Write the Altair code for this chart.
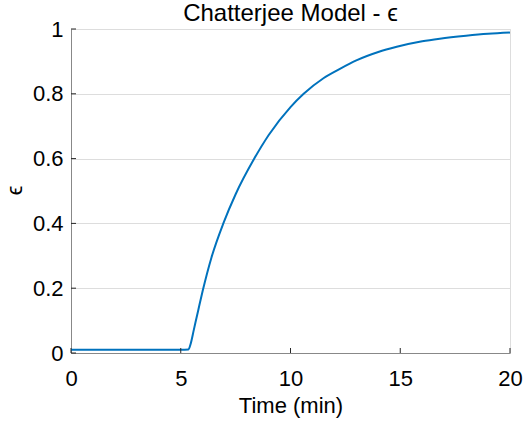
import altair as alt
import pandas as pd

time_min = [0, 2.5, 5.0, 5.35, 5.45, 5.6, 5.8, 6.0, 6.4, 6.94, 7.5, 8.35, 9.0, 10.0,
            10.6, 11.5, 12.25, 12.7, 13.0, 14.0, 14.84, 16.0, 16.8, 18.0, 19.0, 20.0]
epsilon = [0.01, 0.01, 0.01, 0.011, 0.028, 0.073, 0.133, 0.192, 0.295, 0.40, 0.49, 0.60,
           0.672, 0.759, 0.80, 0.848, 0.877, 0.893, 0.903, 0.929, 0.945, 0.962, 0.970,
           0.979, 0.985, 0.989]
x_ticks = [0, 5, 10, 15, 20]
y_ticks = [0, 0.2, 0.4, 0.6, 0.8, 1.0]

W, H = 439, 324
FONT = "Liberation Sans"
TXT = "#262626"

df = pd.DataFrame({"t": time_min, "e": epsilon})
xt = pd.DataFrame({"t": x_ticks})
yt = pd.DataFrame({"e": y_ticks})

xscale = alt.Scale(domain=[0, 20], nice=False, zero=False)
yscale = alt.Scale(domain=[0, 1], nice=False, zero=False)

xaxis = alt.Axis(values=x_ticks, title="Time (min)", grid=False, tickSize=0,
                 labelPadding=15, labelFontSize=22, titleFontSize=22,
                 titleFontWeight="normal", titleBaseline="alphabetic",
                 titleY=59, labelFlush=False, format="~g")
yaxis = alt.Axis(values=y_ticks, title="ϵ", grid=True, tickSize=0,
                 labelPadding=8, labelFontSize=22, titleFontSize=22,
                 titleFontWeight="normal", titleBaseline="alphabetic",
                 titleX=-50, titleY=161, labelFlush=False, format="~g")

line = alt.Chart(df).mark_line(color="#0072BD", strokeWidth=2, interpolate="monotone").encode(
    x=alt.X("t:Q", scale=xscale, axis=xaxis),
    y=alt.Y("e:Q", scale=yscale, axis=yaxis),
)

xtick_rules = alt.Chart(xt).mark_rule(color=TXT, strokeWidth=1).encode(
    x=alt.X("t:Q", scale=xscale, axis=xaxis),
    y=alt.value(H),
    y2=alt.value(H - 5),
)
ytick_rules = alt.Chart(yt).mark_rule(color=TXT, strokeWidth=1).encode(
    y=alt.Y("e:Q", scale=yscale, axis=yaxis),
    x=alt.value(0),
    x2=alt.value(5),
)

chart = alt.layer(line, xtick_rules, ytick_rules).properties(
    width=W, height=H,
    autosize=alt.AutoSizeParams(type="none"),
    padding={"left": 71, "top": 29, "right": 14, "bottom": 70},
    title=alt.TitleParams("Chatterjee Model - ϵ", anchor="middle", fontSize=24,
                          fontWeight="normal", color="#000000",
                          baseline="alphabetic", offset=-4, dy=23),
).configure_view(stroke=None).configure_axis(
    domainColor=TXT, domainWidth=1, labelColor=TXT, titleColor=TXT,
    labelFont=FONT, titleFont=FONT, gridColor="#e6e6e6", gridWidth=1,
).configure_title(font=FONT).configure(background="white")

chart.save("out.html", embed_options={"renderer": "svg", "actions": False})
